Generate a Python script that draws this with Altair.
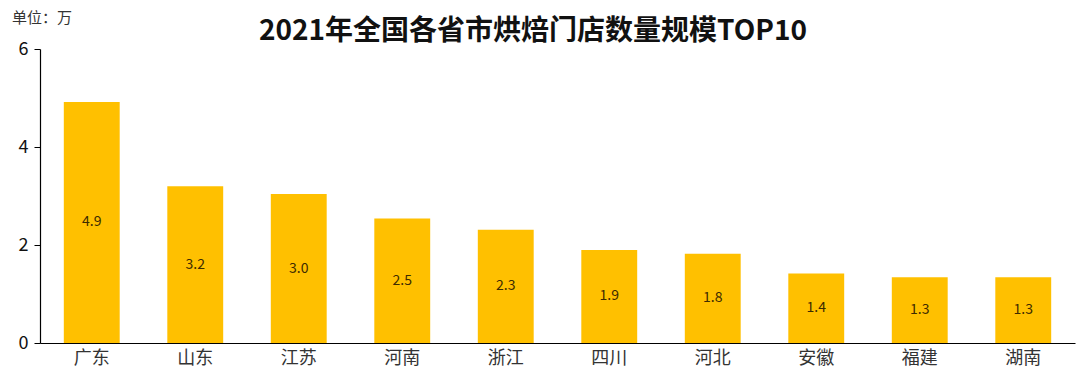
import altair as alt
import pandas as pd

provinces = ["广东", "山东", "江苏", "河南", "浙江", "四川", "河北", "安徽", "福建", "湖南"]
values = [4.92, 3.2, 3.04, 2.54, 2.31, 1.9, 1.82, 1.42, 1.34, 1.34]
labels = ["4.9", "3.2", "3.0", "2.5", "2.3", "1.9", "1.8", "1.4", "1.3", "1.3"]
y_ticks = [0, 2, 4, 6]
title_text = "2021年全国各省市烘焙门店数量规模TOP10"
unit_text = "单位：万"

df = pd.DataFrame({"province": provinces, "value": values, "label": labels})
df["mid"] = df["value"] / 2

FONT = "Noto Sans CJK SC"

x_enc = alt.X(
    "province:N",
    sort=provinces,
    title=None,
    scale=alt.Scale(paddingInner=0.46, paddingOuter=0.23),
    axis=alt.Axis(
        labelAngle=0, labelFontSize=18, labelColor="#333333", labelFont=FONT,
        ticks=False, domainColor="#000000", domainWidth=1.2, labelPadding=6,
    ),
)

bars = alt.Chart(df).mark_bar(color="#FFC000").encode(
    x=x_enc,
    y=alt.Y(
        "value:Q",
        title=None,
        scale=alt.Scale(domain=[0, 6], nice=False),
        axis=alt.Axis(
            values=y_ticks, grid=False, domainColor="#000000", tickColor="#000000",
            tickSize=6, labelFontSize=18, labelColor="#111111", labelFont=FONT,
            labelPadding=6, domainWidth=1.2,
        ),
    ),
)

text = alt.Chart(df).mark_text(fontSize=14, color="#3d2b00", font=FONT, baseline="middle").encode(
    x=alt.X("province:N", sort=provinces),
    y=alt.Y("mid:Q"),
    text="label:N",
)

unit = alt.Chart(pd.DataFrame({"t": [unit_text]})).mark_text(
    align="left", baseline="middle", fontSize=15, color="#333333", font=FONT
).encode(x=alt.value(-28), y=alt.value(-31), text="t:N")

title = alt.Chart(pd.DataFrame({"t": [title_text]})).mark_text(
    align="center", baseline="middle", fontSize=28, fontWeight="bold", color="#111111",
    font=FONT
).encode(x=alt.value(493), y=alt.value(-17), text="t:N")

chart = alt.layer(bars, text, unit, title).properties(
    width=1035,
    height=294,
    background="#ffffff",
    autosize=alt.AutoSizeParams(type="none"),
    padding={"left": 40, "top": 49, "right": 5, "bottom": 40},
).configure_view(stroke=None)

chart.save("out.html", embed_options={"renderer": "svg", "actions": False})
